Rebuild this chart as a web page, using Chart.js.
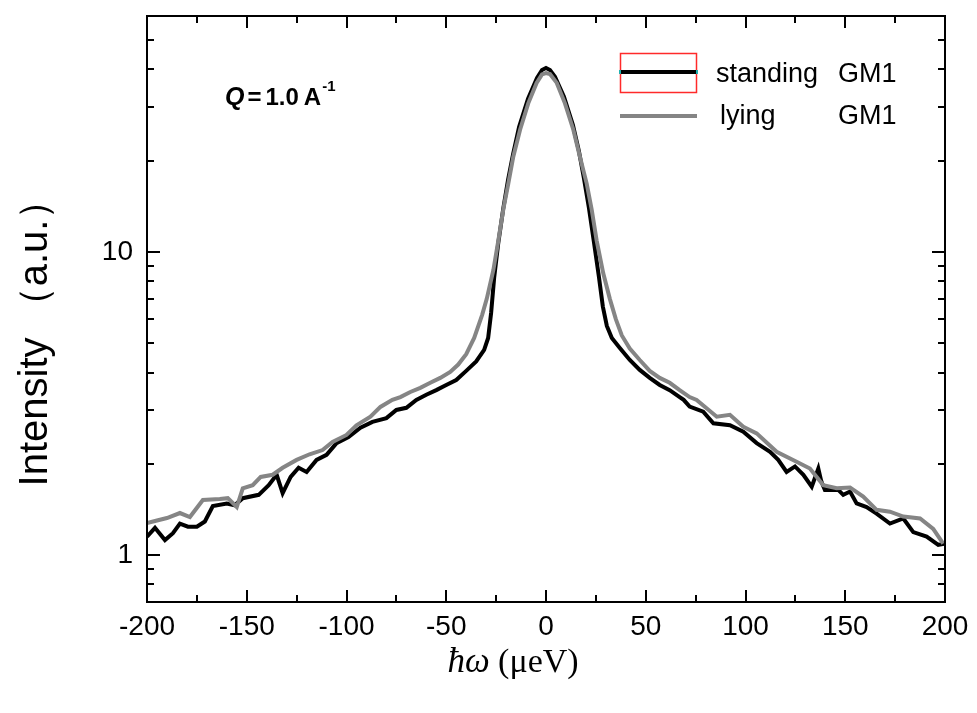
<!DOCTYPE html>
<html>
<head>
<meta charset="utf-8">
<script src="https://cdn.jsdelivr.net/npm/chart.js@4.4.1/dist/chart.umd.min.js"></script>
<style>
html,body{margin:0;padding:0;background:#fff;}
#c{display:block;}
</style>
</head>
<body>
<canvas id="c" width="977" height="713"></canvas>
<script>
// ---- data ----
const standingLabel = "standing  GM1";
const lyingLabel = "lying       GM1";

const energyStanding = [-200,-196,-191,-187,-183.5,-179.5,-175,-171,-167,-160,-156,-152,-144,-139,-135,-132,-128,-124,-120,-115,-110,-105,-99,-93,-87,-80,-75,-70,-65,-60,-55,-50,-45,-40,-35,-31,-29,-27.5,-26,-24,-21.5,-19,-16.5,-13.5,-9,-4.5,-2,0,2,4.5,9,13.5,16.5,19,21.5,24,26.5,28.5,30.5,33,37,42,47,52,57,62,67,69,72,78.8,83.9,92.2,98.9,105.6,112.3,116.4,120.6,124.8,129,133.2,136.5,138,139.8,146.5,149,152.4,155.7,160.7,165.7,172.4,179.1,184.1,190.8,196.6,199.5];
const intensityStanding = [1.15,1.23,1.12,1.18,1.27,1.24,1.24,1.29,1.45,1.48,1.46,1.54,1.58,1.70,1.84,1.60,1.81,1.94,1.88,2.06,2.14,2.34,2.45,2.63,2.75,2.83,3.01,3.06,3.25,3.38,3.50,3.64,3.78,4.05,4.35,4.75,5.2,6.3,8.2,10.6,13.8,17.3,21.0,25.8,32.0,37.5,39.8,40.4,39.8,37.8,32.5,26.2,21.5,17.5,14.0,10.8,8.3,6.6,5.7,5.2,4.82,4.4,4.08,3.84,3.64,3.50,3.32,3.25,3.09,2.97,2.72,2.68,2.55,2.34,2.19,2.06,1.88,1.96,1.84,1.68,1.93,1.75,1.64,1.64,1.58,1.62,1.48,1.44,1.37,1.27,1.32,1.19,1.15,1.08,1.09];

const energyLying = [-200,-195,-190,-183.5,-178.5,-172,-163.5,-159.5,-155,-152,-147,-143,-137,-132,-125,-118.5,-112,-107,-100,-95,-88,-83,-77,-73,-68,-63,-58,-53,-48,-44,-40,-36,-32,-29.7,-26.4,-23.9,-21.4,-18.9,-16.4,-13,-8.9,-4.7,-2,0,2,5.4,9.5,13.7,17,20.4,22.9,25.4,28.7,32,35,38,42,47,52,57,62,67,72,75.5,85.6,92.2,98.9,105.6,115.6,125.6,132.3,139,145.7,152.4,159,165.7,172.4,179.1,187.5,194.1,199.1];
const intensityLying = [1.275,1.30,1.325,1.376,1.335,1.52,1.53,1.54,1.44,1.66,1.70,1.81,1.84,1.94,2.06,2.15,2.22,2.36,2.49,2.68,2.86,3.08,3.25,3.32,3.45,3.56,3.70,3.84,4.02,4.25,4.6,5.2,6.2,7.0,8.7,10.9,13.8,16.8,20.6,25.3,30.9,36.1,38.5,38.9,38.6,36.1,30.9,25.3,20.6,16.8,13.8,10.9,8.5,7.0,6.0,5.3,4.8,4.4,4.05,3.84,3.70,3.50,3.32,3.25,2.86,2.90,2.65,2.52,2.19,2.03,1.93,1.70,1.66,1.67,1.56,1.41,1.39,1.34,1.32,1.22,1.09];

const xRange = [-200, 200];
const xMajorStep = 50;
const xMinorStep = 25;
const yRange = [0.7, 60];
const yMajorTicks = [1, 10];
const yMinorTicks = [0.8, 0.9, 2, 3, 4, 5, 6, 7, 8, 9, 20, 30, 40, 50];

const toPoints = (xs, ys) => xs.map((v, i) => ({x: v, y: ys[i]}));

const SANS = '"Liberation Sans", Arial, sans-serif';
const SERIF = '"Liberation Serif", "Times New Roman", serif';

const overlay = {
  id: 'overlay',
  afterDraw(chart) {
    const {ctx, chartArea: a, scales: {x, y}} = chart;
    ctx.save();
    // frame
    ctx.strokeStyle = '#000';
    ctx.lineWidth = 2;
    ctx.lineCap = 'butt';
    ctx.strokeRect(a.left, a.top, a.right - a.left, a.bottom - a.top);
    // ticks pointing inward
    ctx.beginPath();
    for (let v = xRange[0]; v <= xRange[1]; v += xMinorStep) {
      const px = Math.round(x.getPixelForValue(v));
      const len = (v % xMajorStep === 0) ? 12 : 7;
      ctx.moveTo(px, a.bottom); ctx.lineTo(px, a.bottom - len);
      ctx.moveTo(px, a.top); ctx.lineTo(px, a.top + len);
    }
    const yTick = (v, len) => {
      const py = Math.round(y.getPixelForValue(v));
      ctx.moveTo(a.left, py); ctx.lineTo(a.left + len, py);
      ctx.moveTo(a.right, py); ctx.lineTo(a.right - len, py);
    };
    yMajorTicks.forEach(v => yTick(v, 13));
    yMinorTicks.forEach(v => yTick(v, 7));
    ctx.stroke();

    // legend
    const ds = chart.data.datasets;
    ctx.strokeStyle = '#ff2a2a';
    ctx.lineWidth = 1.5;
    ctx.strokeRect(620.5, 53.5, 76, 39);
    ctx.strokeStyle = ds[0].borderColor;
    ctx.lineWidth = 4;
    ctx.beginPath(); ctx.moveTo(620, 72); ctx.lineTo(697, 72); ctx.stroke();
    ctx.fillStyle = '#20b0b0';
    ctx.fillRect(619, 70, 2, 4); ctx.fillRect(696, 70, 2, 4);
    ctx.strokeStyle = ds[1].borderColor;
    ctx.beginPath(); ctx.moveTo(620, 116); ctx.lineTo(697, 116); ctx.stroke();

    ctx.fillStyle = '#000';
    ctx.font = '27px ' + SANS;
    ctx.textBaseline = 'alphabetic';
    ctx.textAlign = 'left';
    const [s1, g1] = ds[0].label.split(/\s+/);
    const [s2, g2] = ds[1].label.split(/\s+/);
    ctx.fillText(s1, 716, 82);
    ctx.fillText(g1, 838, 82);
    ctx.fillText(s2, 720, 124);
    ctx.fillText(g2, 838, 124);

    // annotation Q = 1.0 A^-1
    let qx = 225;
    const qy = 105;
    ctx.font = 'bold italic 25px ' + SANS;
    ctx.fillText('Q', qx, qy);
    qx += ctx.measureText('Q').width + 3;
    ctx.font = 'bold 24px ' + SANS;
    ctx.fillText('=', qx, qy);
    qx += ctx.measureText('=').width + 4;
    ctx.fillText('1.0', qx, qy);
    qx += ctx.measureText('1.0').width + 5;
    ctx.fillText('A', qx, qy);
    qx += ctx.measureText('A').width + 1;
    ctx.font = 'bold 15px ' + SANS;
    ctx.fillText('-1', qx, qy - 14);

    // x title
    const t1 = 'ħω', t2 = ' (μeV)';
    ctx.font = 'italic 35px ' + SERIF;
    const w1 = ctx.measureText(t1).width;
    ctx.font = '34px ' + SERIF;
    const w2 = ctx.measureText(t2).width;
    let tx = 513 - (w1 + w2) / 2;
    ctx.font = 'italic 35px ' + SERIF;
    ctx.fillText(t1, tx, 672);
    ctx.font = '34px ' + SERIF;
    ctx.fillText(t2, tx + w1, 672);

    // y title
    ctx.save();
    ctx.translate(36, 333);
    ctx.rotate(-Math.PI / 2);
    ctx.font = '40px ' + SANS;
    ctx.textAlign = 'center';
    ctx.textBaseline = 'middle';
    ctx.fillText('Intensity （a.u.）', 0, 0);
    ctx.restore();

    ctx.restore();
  }
};

new Chart(document.getElementById('c'), {
  type: 'line',
  data: {
    datasets: [
      {label: standingLabel, data: toPoints(energyStanding, intensityStanding), borderColor: '#000000', borderWidth: 4, pointRadius: 0, tension: 0, fill: false, order: 2},
      {label: lyingLabel, data: toPoints(energyLying, intensityLying), borderColor: '#858585', borderWidth: 4, pointRadius: 0, tension: 0, fill: false, order: 1}
    ]
  },
  options: {
    responsive: false,
    animation: false,
    devicePixelRatio: 1,
    layout: {padding: {left: 0, right: 32, top: 16, bottom: 0}},
    plugins: {legend: {display: false}, tooltip: {enabled: false}},
    scales: {
      x: {
        type: 'linear',
        min: xRange[0], max: xRange[1],
        grid: {display: false, drawTicks: false},
        border: {display: false},
        ticks: {stepSize: xMajorStep, color: '#000', font: {family: SANS, size: 28}, padding: 8, maxRotation: 0, autoSkip: false},
        afterFit(s) { s.height = 111; s.paddingLeft = 0; s.paddingRight = 0; }
      },
      y: {
        type: 'logarithmic',
        min: yRange[0], max: yRange[1],
        grid: {display: false, drawTicks: false},
        border: {display: false},
        afterBuildTicks(s) { s.ticks = yMajorTicks.map(v => ({value: v, major: true})); },
        ticks: {color: '#000', font: {family: SANS, size: 28}, padding: 14, callback: v => String(v)},
        afterFit(s) { s.width = 147; s.paddingTop = 0; s.paddingBottom = 0; }
      }
    }
  },
  plugins: [overlay]
});
</script>
</body>
</html>
